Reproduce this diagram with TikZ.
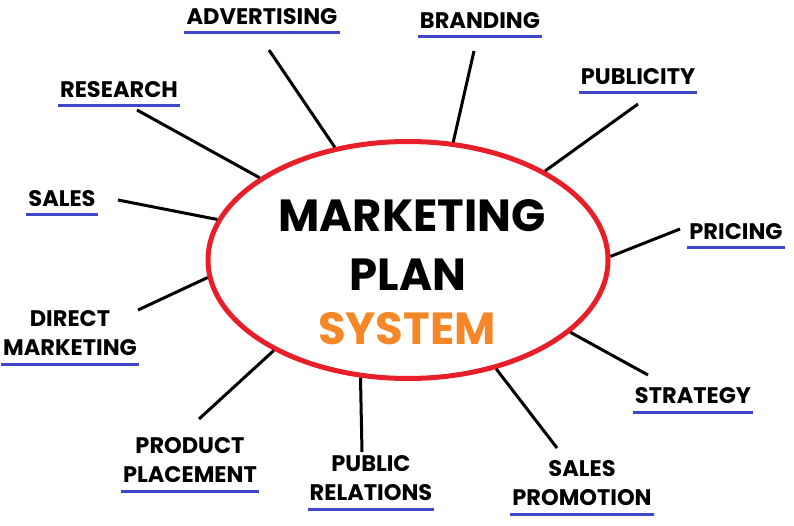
\documentclass[tikz,border=0pt]{standalone}
\usepackage{fontspec}
\setmainfont{Poppins}
\usepackage{tikz}
\usetikzlibrary{shapes.geometric}

\definecolor{hubred}{RGB}{232,30,40}
\definecolor{lineblue}{RGB}{63,72,204}
\definecolor{sysorange}{RGB}{245,135,40}

\tikzset{
  tag/.style={font=\fontsize{22.5}{29}\selectfont\bfseries, align=center, anchor=south, inner xsep=2pt, inner ysep=8pt},
  uline/.style={draw=lineblue, line width=3pt},
  spoke/.style={line width=3pt},
  bigword/.style={font=\fontsize{45}{50}\selectfont\bfseries}
}

\begin{document}
\begin{tikzpicture}[x=1pt, y=-1pt]
\useasboundingbox (0,0) rectangle (794,526);

\node [draw=hubred, line width=5pt, ellipse, minimum width=400pt, minimum height=237pt] (hub) at (408,260) {};

\node [bigword] (mkt) at (412,216) {MARKETING};
\node [bigword] (plan) at (408,275) {PLAN};
\node [bigword, text=sysorange] (sys) at (407,329) {SYSTEM};

% labels round the hub
\node [tag] (adv) at (262,33) {ADVERTISING};
\node [tag] (brand) at (480,37) {BRANDING};
\node [tag] (pub) at (638,93) {PUBLICITY};
\node [tag] (res) at (119,106) {RESEARCH};
\node [tag] (sales) at (62,215) {SALES};
\node [tag] (price) at (736,248) {PRICING};
\node [tag] (direct) at (70,364) {DIRECT\\MARKETING};
\node [tag] (place) at (190,491) {PRODUCT\\PLACEMENT};
\node [tag] (pubrel) at (371,509) {PUBLIC\\RELATIONS};
\node [tag] (strat) at (693,412) {STRATEGY};
\node [tag] (promo) at (582,514) {SALES\\PROMOTION};

\draw[uline] (adv.south west) to (adv.south east);
\draw[uline] (brand.south west) to (brand.south east);
\draw[uline] (pub.south west) to (pub.south east);
\draw[uline] (res.south west) to (res.south east);
\draw[uline] (sales.south west) to (sales.south east);
\draw[uline] (price.south west) to (price.south east);
\draw[uline] (direct.south west) to (direct.south east);
\draw[uline] (place.south west) to (place.south east);
\draw[uline] (pubrel.south west) to (pubrel.south east);
\draw[uline] (strat.south west) to (strat.south east);
\draw[uline] (promo.south west) to (promo.south east);

% free ends of the spokes
\coordinate (advend) at (269,50);
\coordinate (brandend) at (474,51);
\coordinate (pubend) at (638,104);
\coordinate (resend) at (137,110);
\coordinate (salesend) at (118,200);
\coordinate (priceend) at (680,229);
\coordinate (directend) at (138,310);
\coordinate (placeend) at (199,419);
\coordinate (pubrelend) at (362,452);
\coordinate (stratend) at (648,375);
\coordinate (promoend) at (557,448);

\draw[spoke] (advend) to (hub.123.7);
\draw[spoke] (brandend) to (hub.69.2);
\draw[spoke] (pubend) to (hub.33.5);
\draw[spoke] (resend) to (hub.151.2);
\draw[spoke] (salesend) to (hub.168.2);
\draw[spoke] (priceend) to (hub.1.5);
\draw[spoke] (directend) to (hub.185.1);
\draw[spoke] (placeend) to (hub.214.9);
\draw[spoke] (pubrelend) to (hub.248.7);
\draw[spoke] (stratend) to (hub.336.7);
\draw[spoke] (promoend) to (hub.309.5);
\end{tikzpicture}
\end{document}
